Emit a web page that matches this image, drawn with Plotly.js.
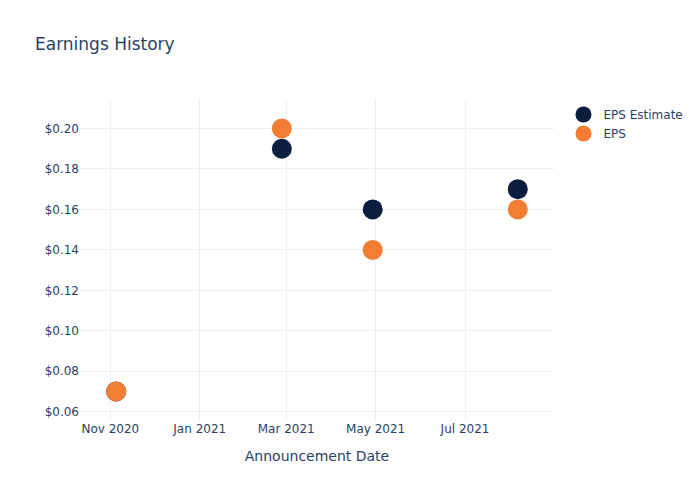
<!DOCTYPE html>
<html>
<head>
<meta charset="utf-8">
<script src="https://cdn.plot.ly/plotly-3.0.1.min.js"></script>
<style>html,body{margin:0;padding:0;}#chart{width:700px;height:500px;}</style>
</head>
<body>
<div id="chart"></div>
<script>
const dates = ["2020-11-05", "2021-02-26", "2021-04-29", "2021-08-06"];
const epsEstimate = [0.07, 0.19, 0.16, 0.17];
const eps = [0.07, 0.20, 0.14, 0.16];

const traces = [
  {x: dates, y: epsEstimate, name: "EPS Estimate", mode: "markers", type: "scatter",
   marker: {color: "#0b1e3f", size: 20}},
  {x: dates, y: eps, name: "EPS", mode: "markers", type: "scatter",
   marker: {color: "#f47d35", size: 20}}
];

const layout = {
  width: 700, height: 500,
  title: {text: "Earnings History", x: 0.05, font: {size: 17, color: "#2a3f5f"}},
  font: {family: "DejaVu Sans, sans-serif", color: "#2a3f5f"},
  paper_bgcolor: "white", plot_bgcolor: "white",
  xaxis: {title: {text: "Announcement Date", standoff: 16}, automargin: true, gridcolor: "#EBF0F8", zeroline: false, dtick: "M2", tickformat: "%b %Y"},
  yaxis: {tickprefix: "$", tickformat: ".2f", gridcolor: "#EBF0F8", zeroline: false},
  legend: {x: 1.02, y: 1}
};

Plotly.newPlot("chart", traces, layout, {displayModeBar: false});
</script>
</body>
</html>
